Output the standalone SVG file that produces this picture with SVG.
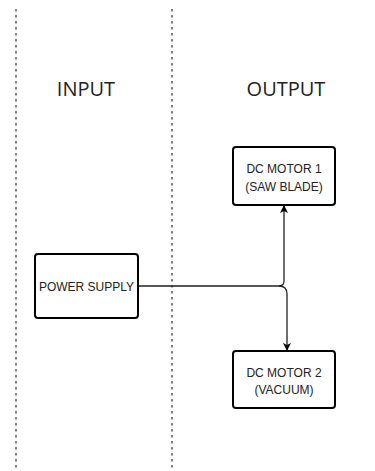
<svg xmlns="http://www.w3.org/2000/svg" width="375" height="471" viewBox="0 0 375 471">
<style>
.lane{stroke:#555;stroke-width:1.5;stroke-dasharray:2.5 3.5;fill:none}
.box{fill:#fff;stroke:#000;stroke-width:2}
.lbl{font-family:"Liberation Sans",Arial,sans-serif;font-size:12px;fill:#222;text-anchor:middle}
.hdr{font-family:"Open Sans","Noto Sans",sans-serif;font-size:20px;fill:#222;text-anchor:middle}
.wire{fill:none;stroke:#222;stroke-width:1.3}
</style>
<defs>
<marker id="ah" markerWidth="8" markerHeight="10" refX="7" refY="4" orient="auto" markerUnits="userSpaceOnUse" viewBox="0 0 8 8">
<path d="M0,0 L8,4 L0,8 L2,4 Z" fill="#000"/>
</marker>
</defs>
<rect width="375" height="471" fill="#fff"/>
<g id="lanes">
<line class="lane" x1="16" y1="9" x2="16" y2="471"/>
<line class="lane" x1="172" y1="9" x2="172" y2="471"/>
</g>
<g id="headers">
<text class="hdr" x="86" y="96">INPUT</text>
<text class="hdr" x="286" y="96">OUTPUT</text>
</g>
<g id="connectors">
<path class="wire" d="M138,286 H279 Q284,286 284,281 V206" marker-end="url(#ah)"/>
<path class="wire" d="M279,286 Q287,286 287,294 V350" marker-end="url(#ah)"/>
</g>
<g id="motor1">
<rect class="box" x="233" y="147" width="102" height="58" rx="3"/>
<text class="lbl" x="284" y="173">DC MOTOR 1</text>
<text class="lbl" x="284" y="191">(SAW BLADE)</text>
</g>
<g id="power">
<rect class="box" x="35" y="254" width="103" height="64" rx="3"/>
<text class="lbl" x="86.5" y="291">POWER SUPPLY</text>
</g>
<g id="motor2">
<rect class="box" x="233" y="351" width="102" height="57" rx="3"/>
<text class="lbl" x="284" y="377">DC MOTOR 2</text>
<text class="lbl" x="284" y="394">(VACUUM)</text>
</g>
</svg>
